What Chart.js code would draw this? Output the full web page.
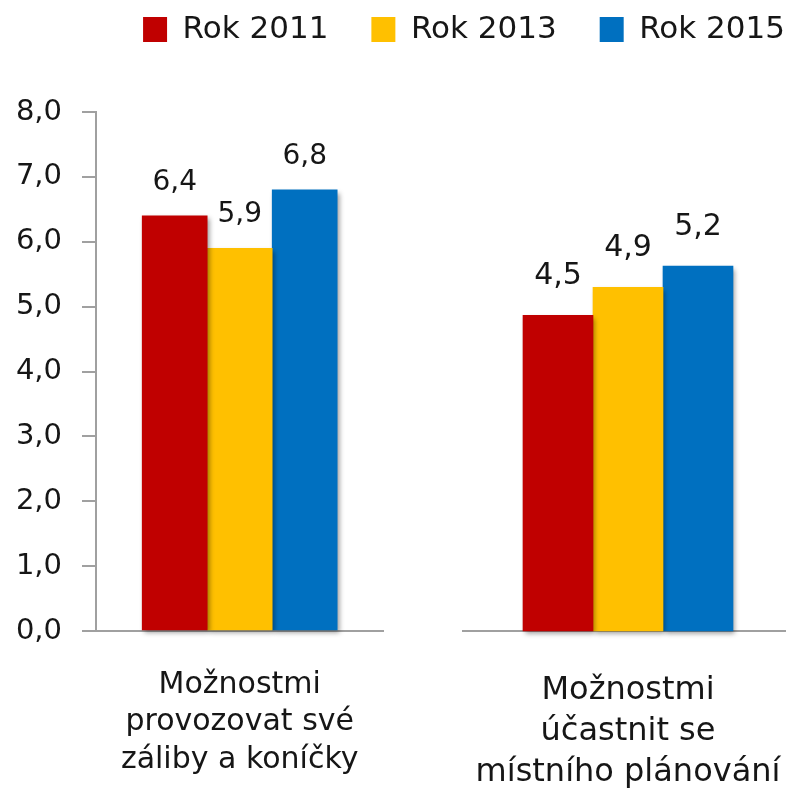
<!DOCTYPE html>
<html><head><meta charset="utf-8">
<script src="https://cdn.jsdelivr.net/npm/chart.js@4.4.1/dist/chart.umd.min.js"></script>
<style>
html,body{margin:0;padding:0;background:#fff;overflow:hidden;width:786px;height:797px;}
#wrap{position:relative;width:786px;height:797px;overflow:hidden;background:#fff;}
canvas{position:absolute;top:0;left:0;}
</style></head><body>
<div id="wrap">
<canvas id="c2" width="828" height="797"></canvas>
<canvas id="c1" width="400" height="797"></canvas>
</div>
<script>
// ---- data ----
const seriesNames = ['Rok 2011', 'Rok 2013', 'Rok 2015'];
const seriesColors = ['#C00000', '#FFC000', '#0070C0'];
const category1 = ['Možnostmi', 'provozovat své', 'záliby a koníčky'];
const category2 = ['Možnostmi', 'účastnit se', 'místního plánování'];
const values1 = [6.4, 5.9, 6.8];
const values2 = [4.5, 4.9, 5.2];
const yTicks = [0, 1, 2, 3, 4, 5, 6, 7, 8];

const fmt = v => Number(v).toFixed(1).replace('.', ',');
const TEXT = '#161616';
const AXIS = '#a0a0a0';
const FONT = 'DejaVu Sans';

function barDecor(labelFont, labelOffset) {
  return {
    id: 'barDecor',
    beforeDatasetsDraw(chart) {
      const ctx = chart.ctx;
      ctx.save();
      ctx.shadowColor = 'rgba(0,0,0,0.4)';
      ctx.shadowBlur = 5;
      ctx.shadowOffsetX = 2;
      ctx.shadowOffsetY = 3;
    },
    afterDatasetsDraw(chart) {
      const ctx = chart.ctx;
      ctx.restore();
      ctx.save();
      ctx.font = labelFont;
      ctx.fillStyle = TEXT;
      ctx.textAlign = 'center';
      ctx.textBaseline = 'alphabetic';
      chart.data.datasets.forEach((ds, i) => {
        const meta = chart.getDatasetMeta(i);
        meta.data.forEach((el, j) => {
          const v = ds.data[j];
          if (v == null) return;
          ctx.fillText(fmt(v), el.x, el.y - labelOffset);
        });
      });
      ctx.restore();
    }
  };
}

// ---- chart 1 (with y axis) ----
new Chart(document.getElementById('c1'), {
  type: 'bar',
  data: {
    labels: [category1],
    datasets: seriesNames.map((n, i) => ({
      label: n, data: [values1[i]], backgroundColor: seriesColors[i],
      barThickness: 65, clip: false
    }))
  },
  options: {
    responsive: false, animation: false,
    layout: { padding: { top: 112, right: 13, bottom: 0, left: 0 } },
    plugins: { legend: { display: false }, tooltip: { enabled: false } },
    scales: {
      x: {
        grid: { display: false, drawTicks: false, tickLength: 0 },
        border: { display: true, color: AXIS, width: 2 },
        ticks: { font: { family: FONT, size: 30, lineHeight: 1.25 }, color: TEXT, padding: 35, maxRotation: 0 },
        afterFit: s => { s.height = 166; }
      },
      y: {
        min: 0, max: 8,
        afterBuildTicks: s => { s.ticks = yTicks.map(v => ({ value: v })); },
        ticks: { callback: v => fmt(v), font: { family: FONT, size: 29 }, color: TEXT, padding: 20 },
        grid: { drawOnChartArea: false, drawTicks: true, tickLength: 14, color: AXIS, lineWidth: 2 },
        border: { display: true, color: AXIS, width: 2 },
        afterFit: s => { s.width = 96; }
      }
    }
  },
  plugins: [barDecor('28px "DejaVu Sans"', 26)]
});

// ---- chart 2 (with legend) ----
new Chart(document.getElementById('c2'), {
  type: 'bar',
  data: {
    labels: [category2],
    datasets: seriesNames.map((n, i) => ({
      label: n, data: [values2[i]], backgroundColor: seriesColors[i],
      barThickness: 70, clip: false
    }))
  },
  options: {
    responsive: false, animation: false,
    layout: { padding: { top: -29, right: 0, bottom: 0, left: 0 } },
    plugins: {
      legend: {
        display: true, position: 'top', align: 'end',
        labels: { boxWidth: 24, boxHeight: 25, padding: 43, color: TEXT, font: { family: FONT, size: 31 } }
      },
      tooltip: { enabled: false }
    },
    scales: {
      x: {
        grid: { display: false, drawTicks: false, tickLength: 0 },
        border: { display: true, color: AXIS, width: 2 },
        ticks: { font: { family: FONT, size: 32, lineHeight: 1.28 }, color: TEXT, padding: 39, maxRotation: 0 },
        afterFit: s => { s.height = 166; s.paddingLeft = 0; s.paddingRight = 0; }
      },
      y: {
        min: 0, max: 8.21, display: true,
        ticks: { display: false },
        grid: { display: false, drawTicks: false },
        border: { display: false },
        afterFit: s => { s.width = 463; }
      },
      yr: {
        type: 'linear', position: 'right', display: true,
        ticks: { display: false },
        grid: { display: false, drawTicks: false },
        border: { display: false },
        afterFit: s => { s.width = 35; }
      }
    }
  },
  plugins: [barDecor('30px "DejaVu Sans"', 31)]
});
</script>
</body></html>
